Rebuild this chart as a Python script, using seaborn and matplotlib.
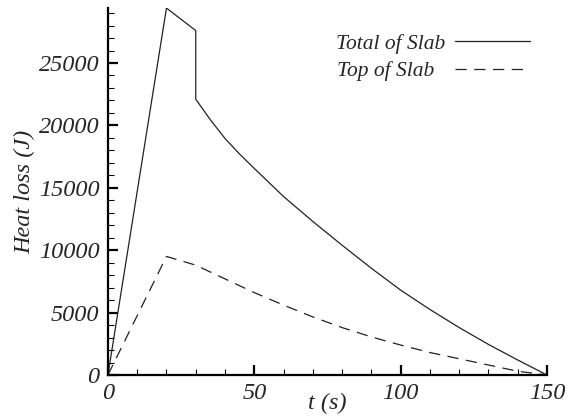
import numpy as np
import pandas as pd
import matplotlib
matplotlib.use('Agg')
import matplotlib.pyplot as plt
from matplotlib.ticker import MultipleLocator
import seaborn as sns

# Datos
t_total = [0, 20, 30, 30, 35, 40, 45, 50, 60, 70, 80, 90, 100, 110, 120, 130, 140, 150]
q_total = [0, 29400, 27600, 22100, 20450, 18950, 17700, 16550, 14300, 12300,
           10400, 8550, 6800, 5250, 3800, 2450, 1200, 0]

t_top = [0, 20, 30, 40, 50, 60, 70, 80, 90, 100, 110, 120, 130, 140, 150]
q_top = [0, 9500, 8800, 7700, 6600, 5600, 4650, 3800, 3050, 2400, 1800,
         1300, 800, 300, 0]

sns.set_style('white')
plt.rcParams['font.family'] = ['Liberation Serif', 'DejaVu Serif']
plt.rcParams['font.style'] = 'italic'

fig = plt.figure(figsize=(5.68, 4.16), dpi=100)
ax = fig.add_axes([0.190, 0.0986, 0.773, 0.882])

sns.lineplot(x=t_total, y=q_total, ax=ax, estimator=None, sort=False,
             color='#222222', linewidth=0.9, label='Total of Slab')
sns.lineplot(x=t_top, y=q_top, ax=ax, estimator=None, sort=False,
             color='#222222', linewidth=0.9, dashes=False, label='Top of Slab  ')
ax.lines[1].set_dashes((9, 6))

ax.set_xlim(0, 150)
ax.set_ylim(0, 29400)

for s in ['top', 'right']:
    ax.spines[s].set_visible(False)
for s in ['left', 'bottom']:
    ax.spines[s].set_linewidth(1.6)
    ax.spines[s].set_color('black')

ax.xaxis.set_major_locator(MultipleLocator(50))
ax.xaxis.set_minor_locator(MultipleLocator(10))
ax.yaxis.set_major_locator(MultipleLocator(5000))
ax.yaxis.set_minor_locator(MultipleLocator(1000))
ax.tick_params(which='major', direction='in', length=7, width=1.6,
               labelsize=17.5, pad=6, color='black')
ax.tick_params(which='minor', direction='in', length=4, width=0.8, color='black')
ax.tick_params(axis='y', which='both', left=True)
ax.tick_params(axis='x', which='both', bottom=True)

ax.set_xlabel('t (s)', fontsize=17.5, style='italic')
ax.set_ylabel('Heat loss (J)', fontsize=17.5, style='italic')
ax.xaxis.set_label_coords(0.5, -0.05)
ax.yaxis.set_label_coords(-0.165, 0.5)

ax.legend(loc='upper right', bbox_to_anchor=(0.961, 0.93), frameon=False,
          markerfirst=False, fontsize=15.5, handlelength=3.5, labelspacing=0.35,
          handletextpad=0.45, borderpad=0, borderaxespad=0)

fig.savefig('out.png', dpi=100)
